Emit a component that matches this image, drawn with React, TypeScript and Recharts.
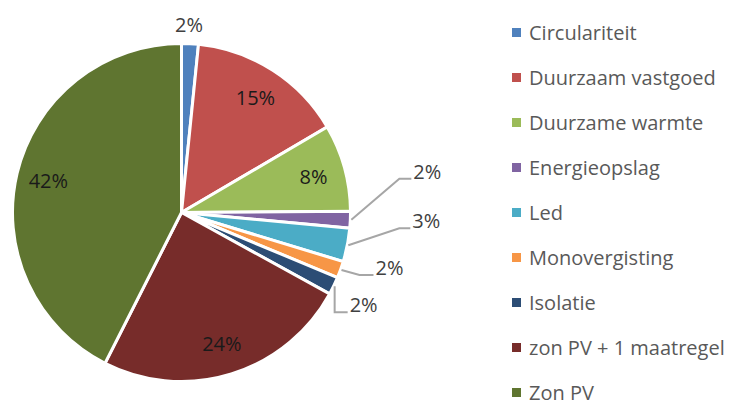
import React from 'react';
import { PieChart, Pie, Cell, Legend } from 'recharts';

// shares per measure, in percent of total
const categories = [
    'Circulariteit',
    'Duurzaam vastgoed',
    'Duurzame warmte',
    'Energieopslag',
    'Led',
    'Monovergisting',
    'Isolatie',
    'zon PV + 1 maatregel',
    'Zon PV',
];
const shares = [1.6, 14.9, 8.3, 1.6, 3.2, 1.6, 1.7, 24.4, 42.4];

const COLORS = ['#4f81bd', '#c0504d', '#9bbb59', '#8064a2', '#4bacc6', '#f79646', '#2c4d75', '#772c2a', '#5f7530'];
const FONT = '"Open Sans", sans-serif';
const RAD = Math.PI / 180;

// how each label is placed (style only)
const LABEL_PLACEMENT: any[] = [
    { type: 'top' },
    { type: 'in' },
    { type: 'in' },
    { type: 'leader', elbow: [48, -41], run: 12 },
    { type: 'leader', elbow: [51, -17], run: 11 },
    { type: 'leader', elbow: [18, 5], run: 14 },
    { type: 'leader', elbow: [0, 26], run: 13 },
    { type: 'in' },
    { type: 'in' },
];

const data = categories.map((name, i) => ({ name, value: shares[i] }));

const renderLabel = (props: any) => {
    const { cx, cy, midAngle, outerRadius, index, value } = props;
    const text = `${Math.round(value)}%`;
    const place = LABEL_PLACEMENT[index];
    const cos = Math.cos(-midAngle * RAD);
    const sin = Math.sin(-midAngle * RAD);

    if (place.type === 'in') {
        const r = outerRadius * 0.81;
        return (
            <text x={cx + r * cos} y={cy + r * sin} textAnchor="middle" dominantBaseline="central"
                fill="#1a1a1a" fontSize={20} fontFamily={FONT}>
                {text}
            </text>
        );
    }
    if (place.type === 'top') {
        const r = outerRadius + 19;
        return (
            <text x={cx + r * cos - 2} y={cy + r * sin} textAnchor="middle" dominantBaseline="central"
                fill="#404040" fontSize={20} fontFamily={FONT}>
                {text}
            </text>
        );
    }
    const sx = cx + (outerRadius + 1) * cos;
    const sy = cy + (outerRadius + 1) * sin;
    const ex = sx + place.elbow[0];
    const ey = sy + place.elbow[1];
    const hx = ex + place.run;
    return (
        <g>
            <polyline points={`${sx},${sy} ${ex},${ey} ${hx},${ey}`} fill="none" stroke="#a6a6a6" strokeWidth={2} />
            <text x={hx + 2} y={ey} textAnchor="start" fill="#404040" fontSize={20} fontFamily={FONT}>
                {text}
            </text>
        </g>
    );
};

// legend in data order
const renderLegend = () => (
    <div style={{ paddingTop: 10, paddingLeft: 7 }}>
        {categories.map((name, i) => (
            <div key={name} style={{ height: 45, display: 'flex', alignItems: 'center' }}>
                <span style={{ width: 9, height: 9, background: COLORS[i], display: 'inline-block', marginRight: 8 }} />
                <span style={{ fontFamily: FONT, fontSize: 20, color: '#595959', whiteSpace: 'nowrap' }}>{name}</span>
            </div>
        ))}
    </div>
);

export default function App() {
    return (
        <div style={{ position: 'absolute', left: 0, top: 0, width: 740, height: 401, background: '#fff' }}>
            <PieChart width={740} height={401} margin={{ top: 0, right: 0, bottom: 0, left: 0 }}>
                <Pie
                    data={data}
                    dataKey="value"
                    nameKey="name"
                    cx={181.5}
                    cy={212.5}
                    outerRadius={169}
                    startAngle={90}
                    endAngle={-270}
                    stroke="#ffffff"
                    strokeWidth={3}
                    label={renderLabel}
                    labelLine={false}
                    isAnimationActive={false}
                >
                    {data.map((d, i) => (
                        <Cell key={d.name} fill={COLORS[i]} />
                    ))}
                </Pie>
                <Legend
                    layout="vertical"
                    align="right"
                    verticalAlign="top"
                    content={renderLegend}
                    wrapperStyle={{ left: 505, right: 'auto', top: 0, width: 235 }}
                />
            </PieChart>
        </div>
    );
}
